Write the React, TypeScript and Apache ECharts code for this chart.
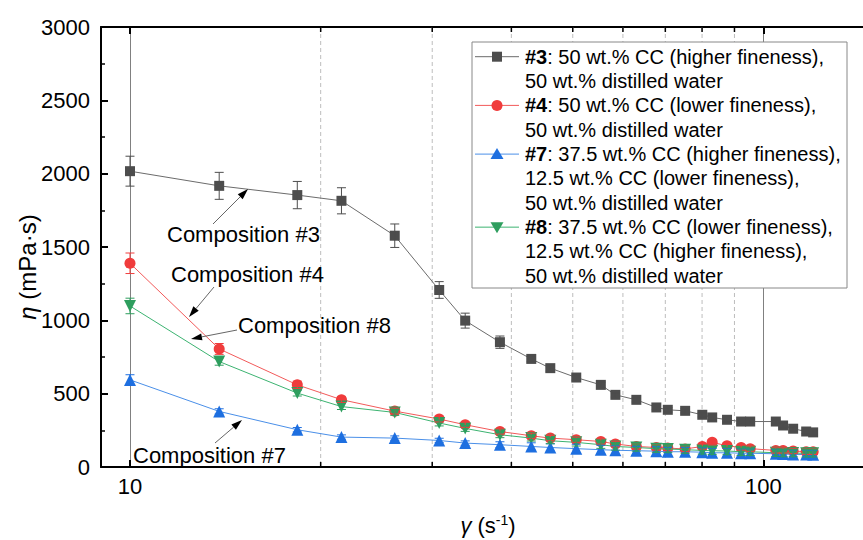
import React, { useEffect, useRef } from 'react';
import * as echarts from 'echarts';

// ---- data ----
const shearRate = [10, 13.83, 18.37, 21.57, 26.18, 30.77, 33.82, 38.37, 43.0, 46.08, 50.64, 55.37, 58.38, 63.0, 67.75, 70.63, 75.23, 80.07, 83.0, 87.6, 92.2, 95.3, 104.6, 107.4, 111.4, 116.8, 119.8];
const eta3 = [2017, 1917, 1854, 1815, 1577, 1207, 998, 851, 737, 674, 610, 560, 492, 458, 406, 390, 383, 356, 338, 322, 310, 310, 310, 283, 261, 242, 236];
const eta4 = [1389, 805, 560, 459, 381, 327, 288, 242, 213, 197, 186, 174, 157, 140, 133, 129, 123, 140, 168, 145, 133, 125, 113, 113, 109, 104, 104];
const eta7 = [594, 379, 254, 204, 197, 181, 163, 152, 140, 133, 125, 118, 114, 111, 108, 104, 104, 101, 97, 97, 94, 94, 90, 88, 86, 85, 84];
const eta8 = [1098, 719, 504, 412, 372, 300, 263, 220, 197, 179, 168, 152, 140, 133, 125, 123, 118, 113, 111, 109, 104, 104, 97, 95, 95, 93, 93];
const err3 = [102, 92, 93, 89, 80, 57, 51, 42, 20, 20, 18, 18, 15, 15, 15, 15, 15, 15, 15, 15, 15, 15, 15, 15, 15, 15, 15];
const err4 = [70, 37, 25, 20, 20, 20, 18, 18, 18, 18, 18, 18, 18, 18, 18, 18, 18, 18, 18, 18, 18, 18, 18, 18, 18, 18, 18];
const err7 = [35, 18, 15, 15, 15, 15, 15, 20, 25, 25, 30, 30, 30, 30, 30, 30, 30, 30, 30, 30, 30, 30, 30, 30, 30, 30, 30];
const err8 = [53, 25, 20, 20, 20, 20, 20, 20, 20, 20, 25, 25, 25, 25, 25, 25, 25, 25, 25, 25, 25, 25, 25, 25, 25, 25, 25];
const minorGridValues = [20, 30, 40, 50, 60, 70, 80, 90];
const xTickLabels = [10, 100];
const yTicks = { min: 0, max: 3000, interval: 500 };

const seriesNames = ['#3', '#4', '#7', '#8'];
const legendLines = [
  ['{b|#3}: 50 wt.% CC (higher fineness),', '50 wt.% distilled water'],
  ['{b|#4}: 50 wt.% CC (lower fineness),', '50 wt.% distilled water'],
  ['{b|#7}: 37.5 wt.% CC (higher fineness),', '12.5 wt.% CC (lower fineness),', '50 wt.% distilled water'],
  ['{b|#8}: 37.5 wt.% CC (lower fineness),', '12.5 wt.% CC (higher fineness),', '50 wt.% distilled water'],
];
const annotations = [
  { text: 'Composition #3', x: 167, y: 234, from: [213, 224], to: [248, 189] },
  { text: 'Composition #4', x: 171, y: 274, from: [214, 287], to: [189, 317] },
  { text: 'Composition #8', x: 238, y: 325, from: [237, 330], to: [191, 339] },
  { text: 'Composition #7', x: 133, y: 455, from: [215, 443], to: [242, 420] },
];
const yAxisTitle = '{i|η} (mPa·s)';
const xAxisTitle = '{i|γ} (s{sup|-1})';

const FONT = 'Arial, "Liberation Sans", sans-serif';
const markerColors = ['#4d4d4d', '#f03c3c', '#1e6fe0', '#2e9e5e'];
const lineColors = ['#6b6b6b', '#f25a5a', '#4a8fe8', '#3cb371'];
const symbols = ['rect', 'circle', 'triangle', 'triangle'];
const symbolSizes = [10, 11, 12, 12];
const symbolRotates = [0, 0, 0, 180];

function arrow(x1: number, y1: number, x2: number, y2: number) {
  const a = Math.atan2(y2 - y1, x2 - x1);
  const c = Math.cos(a), s = Math.sin(a);
  const L = 11, W = 3.5;
  const bx = x2 - L * c, by = y2 - L * s;
  const px = -s * W, py = c * W;
  return [
    { type: 'line', z: 50, shape: { x1, y1, x2: bx, y2: by }, style: { stroke: '#666', lineWidth: 1 } },
    { type: 'polygon', z: 50, shape: { points: [[x2, y2], [bx + px, by + py], [bx - px, by - py]] }, style: { fill: '#000' } },
  ];
}

function legendGraphic() {
  const els: any[] = [];
  els.push({ type: 'rect', z: 100, shape: { x: 472, y: 42, width: 375, height: 246 }, style: { fill: '#fff', stroke: '#888', lineWidth: 1 } });
  const lh = 24.35;
  let lineIdx = 0;
  legendLines.forEach((lines, k) => {
    const cy = 56.7 + lineIdx * lh;
    els.push({ type: 'line', z: 101, shape: { x1: 475, y1: cy, x2: 519, y2: cy }, style: { stroke: lineColors[k], lineWidth: 1 } });
    const mx = 497;
    if (k === 0) {
      els.push({ type: 'rect', z: 102, shape: { x: mx - 5, y: cy - 5, width: 10, height: 10 }, style: { fill: markerColors[k] } });
    } else if (k === 1) {
      els.push({ type: 'circle', z: 102, shape: { cx: mx, cy, r: 5.5 }, style: { fill: markerColors[k] } });
    } else if (k === 2) {
      els.push({ type: 'polygon', z: 102, shape: { points: [[mx, cy - 6], [mx + 6.5, cy + 5], [mx - 6.5, cy + 5]] }, style: { fill: markerColors[k] } });
    } else {
      els.push({ type: 'polygon', z: 102, shape: { points: [[mx, cy + 6], [mx + 6.5, cy - 5], [mx - 6.5, cy - 5]] }, style: { fill: markerColors[k] } });
    }
    els.push({
      type: 'text', z: 102, x: 525, y: cy - lh / 2,
      style: {
        text: lines.join('\n'), font: `20px ${FONT}`, fontSize: 20, fontFamily: FONT, fill: '#000',
        lineHeight: lh, align: 'left', verticalAlign: 'top',
        rich: { b: { fontWeight: 'bold', fontSize: 20, fontFamily: FONT, lineHeight: lh, fill: '#000' } },
      },
    });
    lineIdx += lines.length;
  });
  return els;
}

export default function App() {
  const ref = useRef<HTMLDivElement>(null);
  useEffect(() => {
    if (!ref.current) return;
    const chart = echarts.init(ref.current, null, { renderer: 'svg' });
    const etas = [eta3, eta4, eta7, eta8];
    const errs = [err3, err4, err7, err8];

    const lineSeries = etas.map((eta, k) => ({
      type: 'line',
      name: seriesNames[k],
      xAxisIndex: 0,
      yAxisIndex: 0,
      data: shearRate.map((x, i) => [x, eta[i]]),
      symbol: symbols[k],
      symbolSize: symbolSizes[k],
      symbolRotate: symbolRotates[k],
      showAllSymbol: true,
      lineStyle: { color: lineColors[k], width: 1 },
      itemStyle: { color: markerColors[k] },
      z: 3 + k,
    }));

    const errorSeries = etas.map((eta, k) => ({
      type: 'custom',
      xAxisIndex: 0,
      yAxisIndex: 0,
      z: 8,
      data: shearRate.map((x, i) => [x, eta[i], errs[k][i]]),
      encode: { x: 0, y: 1 },
      renderItem: (params: any, api: any) => {
        const x = api.value(0), y = api.value(1), e = api.value(2);
        const top = api.coord([x, y + e]);
        const bot = api.coord([x, y - e]);
        const st = { stroke: markerColors[k], lineWidth: 1 };
        return {
          type: 'group',
          children: [
            { type: 'line', shape: { x1: top[0], y1: top[1], x2: bot[0], y2: bot[1] }, style: st },
            { type: 'line', shape: { x1: top[0] - 4.5, y1: top[1], x2: top[0] + 4.5, y2: top[1] }, style: st },
            { type: 'line', shape: { x1: bot[0] - 4.5, y1: bot[1], x2: bot[0] + 4.5, y2: bot[1] }, style: st },
          ],
        };
      },
    }));

    const minorSeries = {
      type: 'custom',
      xAxisIndex: 0,
      yAxisIndex: 0,
      z: 1,
      silent: true,
      data: minorGridValues.map((v) => [v, 0]),
      encode: { x: 0, y: 1 },
      renderItem: (params: any, api: any) => {
        const cs = params.coordSys;
        const px = api.coord([api.value(0), 0])[0];
        const top = cs.y, bot = cs.y + cs.height;
        return {
          type: 'group',
          children: [
            { type: 'line', shape: { x1: px, y1: top, x2: px, y2: bot }, style: { stroke: '#bdbdbd', lineWidth: 1, lineDash: [4, 3] } },
            { type: 'line', shape: { x1: px, y1: bot, x2: px, y2: bot - 5 }, style: { stroke: '#000', lineWidth: 1.5 } },
            { type: 'line', shape: { x1: px, y1: top, x2: px, y2: top + 5 }, style: { stroke: '#000', lineWidth: 1.5 } },
          ],
        };
      },
    };

    const isDecade = (v: number) => Math.abs(Math.log10(v) - Math.round(Math.log10(v))) < 1e-6;

    const xBase = {
      type: 'log',
      logBase: 10,
      min: 9,
      max: 150,
      axisLine: { show: true, lineStyle: { color: '#000', width: 2 } },
      axisTick: { show: true, inside: true, length: 7, lineStyle: { color: '#000', width: 2 } },
    };

    chart.setOption({
      animation: false,
      backgroundColor: '#fff',
      grid: { left: 101, top: 27, width: 774, height: 440, containLabel: false, outerBoundsMode: 'none' },
      xAxis: [
        {
          ...xBase,
          position: 'bottom',
          name: xAxisTitle,
          nameLocation: 'middle',
          nameGap: 46,
          nameTextStyle: {
            fontSize: 22, fontFamily: FONT, color: '#000',
            rich: {
              i: { fontStyle: 'italic', fontSize: 22, fontFamily: FONT, color: '#000' },
              sup: { fontSize: 14, fontFamily: FONT, color: '#000', padding: [0, 0, 10, 0] },
            },
          },
          axisLabel: {
            show: true, fontSize: 22, fontFamily: FONT, color: '#000', margin: 8,
            showMinLabel: false, showMaxLabel: false,
            formatter: (v: number) => (isDecade(v) && xTickLabels.some((t) => Math.abs(t - v) < 1e-6 * t) ? String(Math.round(v)) : ''),
          },
          splitLine: { show: true, showMinLine: false, showMaxLine: false, lineStyle: { color: '#808080', width: 1 } },
        },
        {
          ...xBase,
          position: 'top',
          axisLabel: { show: false },
          splitLine: { show: false },
        },
      ],
      yAxis: {
        type: 'value',
        min: yTicks.min,
        max: yTicks.max,
        interval: yTicks.interval,
        axisLine: { show: true, lineStyle: { color: '#000', width: 2 } },
        axisTick: { show: true, inside: true, length: 7, lineStyle: { color: '#000', width: 2 } },
        minorTick: { show: true, splitNumber: 2, length: 4, lineStyle: { color: '#000', width: 1.5 } },
        axisLabel: { fontSize: 22, fontFamily: FONT, color: '#000', margin: 11, formatter: (v: number) => String(v) },
        splitLine: { show: false },
      },
      series: [minorSeries, ...lineSeries, ...errorSeries],
      graphic: [
        {
          type: 'text', z: 50, x: 27, y: 267, rotation: Math.PI / 2,
          style: {
            text: yAxisTitle, font: `24px ${FONT}`, fontSize: 24, fontFamily: FONT, fill: '#000',
            align: 'center', verticalAlign: 'middle',
            rich: { i: { fontStyle: 'italic', fontSize: 24, fontFamily: FONT, fill: '#000' } },
          },
        },
        ...annotations.flatMap((a) => [
          { type: 'text', z: 50, x: a.x, y: a.y, style: { text: a.text, font: `22px ${FONT}`, fontSize: 22, fontFamily: FONT, fill: '#000', align: 'left', verticalAlign: 'middle' } },
          ...arrow(a.from[0], a.from[1], a.to[0], a.to[1]),
        ]),
        ...legendGraphic(),
      ],
    });
    return () => chart.dispose();
  }, []);
  return <div ref={ref} style={{ position: 'absolute', left: 0, top: 0, width: 863, height: 540 }} />;
}
